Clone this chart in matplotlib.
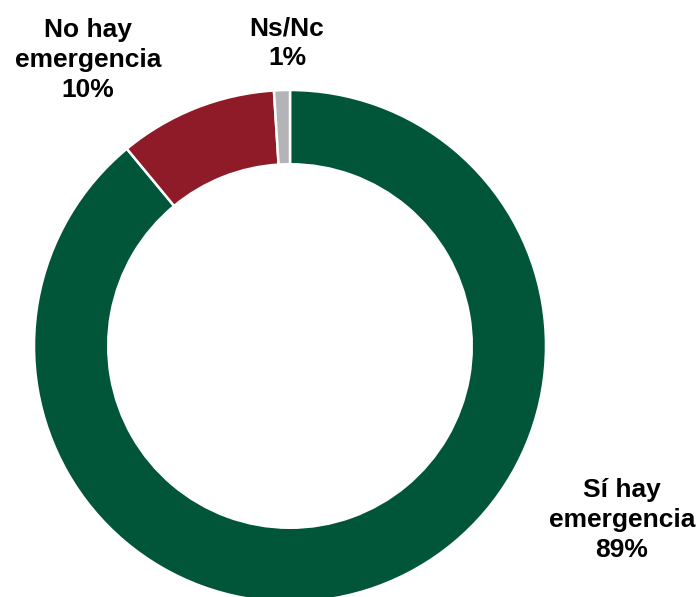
import matplotlib.pyplot as plt

plt.rcParams['font.family'] = ['Liberation Sans', 'DejaVu Sans']

categories = ["Sí hay\nemergencia", "No hay\nemergencia", "Ns/Nc"]
values = [89, 10, 1]
colors = ["#01563A", "#8E1B27", "#B3B3B8"]

W, H = 700, 597
fig = plt.figure(figsize=(W / 100, H / 100), dpi=100)

# donut centre (290, 346) px from top-left, outer radius ~256 px
cx, cy, r = 290, 346, 256
ax = fig.add_axes([(cx - r) / W, (H - cy - r) / H, 2 * r / W, 2 * r / H])
ax.pie(values, colors=colors, startangle=90, counterclock=False, radius=1,
       wedgeprops=dict(width=0.29, edgecolor="white", linewidth=1.8))
ax.set_xlim(-1, 1)
ax.set_ylim(-1, 1)
ax.axis("off")

label_pos = [(622, 520), (88, 60), (287, 43)]
for cat, val, (px, py) in zip(categories, values, label_pos):
    fig.text(px / W, 1 - py / H, f"{cat}\n{val}%", ha="center", va="center",
             fontsize=19, fontweight="bold", linespacing=1.3)

fig.savefig("out.png", dpi=100)
